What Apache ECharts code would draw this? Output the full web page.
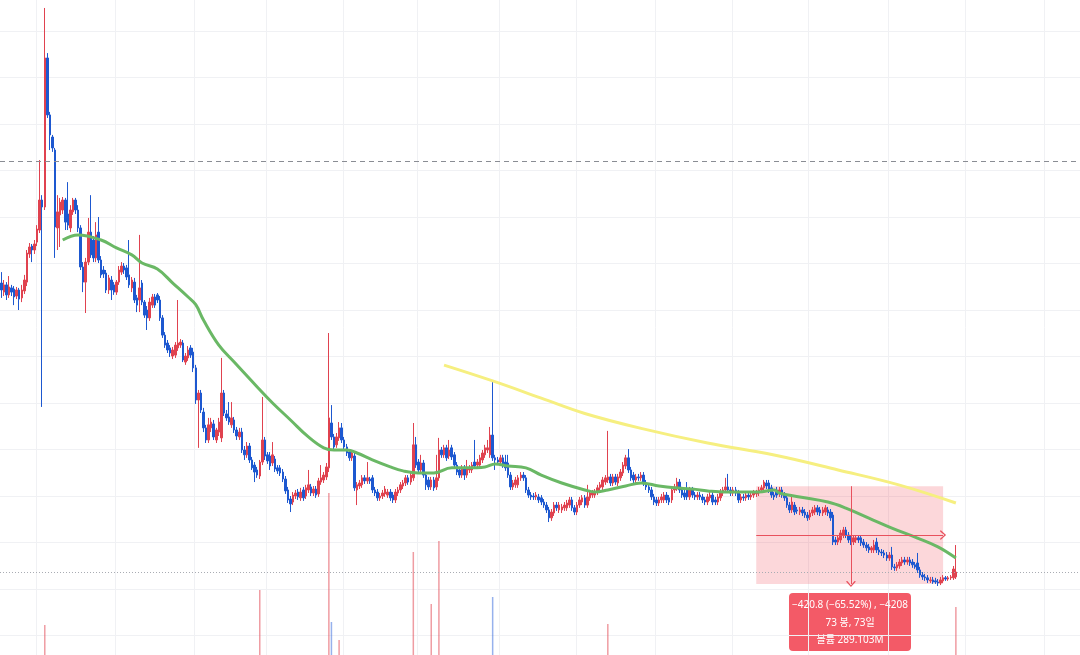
<!DOCTYPE html>
<html>
<head>
<meta charset="utf-8">
<script src="https://cdn.jsdelivr.net/npm/echarts@6/dist/echarts.min.js"></script>
<style>
  html, body { margin: 0; padding: 0; background: #fff; }
  #chart { width: 1080px; height: 655px; }
</style>
</head>
<body>
<div id="chart"></div>
<script>
// daily bars, [open, close, low, high]
const candles = [
  [1516,1486,1452,1563],[1477,1508,1460,1529],[1508,1465,1443,1520],[1465,1499,1452,1546],[1495,1477,1460,1508],
  [1490,1456,1421,1503],[1460,1486,1447,1499],[1486,1447,1400,1495],[1452,1486,1434,1508],[1482,1529,1469,1551],
  [1520,1645,1503,1658],[1641,1671,1624,1688],[1675,1658,1606,1684],[1658,1684,1641,1701],[1692,1748,1675,1765],
  [1744,1873,1731,2045],[1873,1843,983,1894],[1843,2484,1830,2699],[2484,2239,2226,2505],[2239,2153,2088,2252],
  [2144,2097,2080,2153],[2088,1757,1624,2097],[1753,1822,1658,1894],[1809,1864,1671,1882],[1830,1873,1813,1886],
  [1873,1778,1744,1882],[1813,1765,1744,1950],[1753,1830,1735,1851],[1822,1873,1809,1882],[1873,1830,1813,1882],
  [1830,1753,1735,1851],[1753,1585,1572,1765],[1585,1520,1477,1606],[1520,1606,1387,1624],[1606,1735,1593,1796],
  [1735,1637,1624,1894],[1701,1624,1606,1718],[1624,1723,1606,1778],[1735,1615,1602,1800],[1615,1551,1538,1632],
  [1572,1555,1538,1589],[1559,1486,1473,1572],[1486,1538,1469,1551],[1529,1486,1443,1546],[1508,1477,1465,1520],
  [1477,1520,1465,1529],[1520,1572,1508,1589],[1563,1589,1551,1606],[1589,1572,1555,1602],[1581,1542,1529,1594],
  [1551,1508,1495,1701],[1495,1529,1477,1542],[1520,1443,1430,1538],[1452,1421,1391,1465],[1443,1495,1391,1723],
  [1516,1434,1421,1529],[1434,1378,1366,1443],[1400,1366,1314,1417],[1366,1434,1353,1452],[1421,1456,1409,1469],
  [1456,1421,1409,1469],[1465,1443,1430,1473],[1443,1366,1353,1460],[1366,1292,1280,1378],[1292,1249,1237,1305],
  [1258,1228,1215,1271],[1237,1215,1198,1249],[1202,1228,1189,1241],[1206,1249,1194,1262],[1237,1258,1224,1443],
  [1249,1262,1237,1275],[1258,1185,1176,1271],[1176,1202,1164,1215],[1194,1228,1181,1245],[1237,1206,1194,1249],
  [1219,1151,1133,1237],[1151,1013,996,1164],[1013,1043,807,1056],[1043,970,957,1056],[961,893,875,979],
  [893,841,828,906],[841,906,828,936],[893,918,875,936],[910,854,841,927],[841,884,828,893],
  [875,918,858,936],[850,1043,832,1194],[1043,957,944,1056],[953,936,923,970],[940,918,906,1004],
  [906,936,893,1004],[927,884,871,940],[884,858,841,897],[854,875,841,893],[875,798,785,893],
  [798,777,755,815],[777,815,764,832],[815,755,742,828],[755,721,712,768],[733,703,660,746],
  [712,690,678,725],[686,746,673,755],[746,841,733,1026],[841,772,755,854],[777,751,738,789],
  [772,729,712,789],[742,777,729,832],[759,716,703,772],[721,708,695,733],[721,699,686,733],
  [703,673,660,716],[673,622,609,686],[626,583,570,639],[587,566,531,600],[574,604,561,617],
  [600,613,587,626],[617,596,583,630],[592,617,579,635],[626,592,579,639],[600,635,587,648],
  [626,648,613,712],[639,613,600,652],[613,630,600,643],[630,604,592,643],[609,665,596,678],
  [660,678,648,733],[669,690,656,703],[682,725,669,742],[721,936,703,1301],[914,854,841,991],
  [854,811,798,867],[820,854,807,871],[850,893,837,918],[893,841,828,914],[841,811,798,854],
  [811,785,772,824],[789,764,751,802],[764,785,751,798],[772,635,622,785],[626,648,561,660],
  [643,656,630,669],[648,678,635,690],[678,665,652,690],[665,678,652,746],[673,665,652,682],
  [678,626,613,690],[626,613,600,639],[617,592,579,630],[592,600,579,613],[600,613,587,626],
  [609,630,596,643],[604,617,592,630],[617,592,579,630],[604,583,570,617],[583,617,570,630],
  [613,626,600,639],[626,648,613,660],[643,656,630,669],[656,678,643,690],[678,660,648,690],
  [660,690,648,703],[678,820,665,914],[820,733,721,854],[746,712,699,759],[712,742,699,777],
  [742,690,678,755],[690,648,626,703],[669,639,626,682],[639,669,626,682],[669,635,622,682],
  [639,678,626,777],[678,798,665,850],[798,777,764,811],[777,807,764,820],[807,764,751,820],
  [772,798,759,841],[807,768,755,820],[777,733,721,789],[733,703,690,746],[712,690,678,725],
  [690,721,678,733],[721,690,669,733],[690,721,678,755],[712,721,699,733],[712,733,699,746],
  [746,729,716,841],[733,746,721,759],[733,764,721,777],[755,785,742,798],[777,807,764,820],
  [798,807,785,841],[777,862,764,897],[862,764,751,1095],[764,755,712,777],[755,746,733,768],
  [746,764,733,777],[764,733,721,777],[746,721,708,777],[742,690,678,777],[690,639,626,703],
  [639,656,626,669],[648,669,635,682],[648,678,635,690],[678,690,665,703],[690,678,665,703],
  [678,626,613,690],[626,604,592,639],[604,596,583,617],[600,596,583,613],[596,604,583,617],
  [596,583,570,609],[592,574,561,604],[574,561,549,587],[561,540,527,574],[540,506,488,553],
  [506,531,493,544],[527,561,514,574],[561,549,536,574],[540,561,527,574],[540,553,527,566],
  [549,561,536,574],[549,570,536,583],[561,583,549,596],[583,549,536,596],[549,531,518,561],
  [531,561,518,574],[561,583,549,596],[574,592,561,604],[592,561,549,604],[561,596,549,648],
  [592,613,579,626],[604,613,592,626],[604,617,592,630],[617,635,604,648],[635,648,622,660],
  [639,669,626,682],[660,678,648,690],[669,682,656,880],[682,656,643,695],[656,682,643,695],
  [682,660,648,695],[656,682,643,695],[678,703,665,716],[699,733,686,746],[729,764,716,777],
  [764,712,699,802],[712,678,665,725],[690,669,648,703],[669,682,656,695],[682,678,665,695],
  [678,690,665,703],[690,656,643,703],[656,639,626,669],[639,626,613,652],[626,596,583,639],
  [596,574,561,609],[583,570,557,596],[570,583,557,596],[583,596,570,609],[583,604,570,617],
  [604,583,570,617],[592,574,561,604],[583,626,570,639],[626,639,613,652],[635,660,622,678],
  [660,626,613,673],[626,604,592,639],[613,596,583,626],[626,596,583,660],[596,626,583,639],
  [626,604,592,639],[604,596,583,617],[596,604,583,617],[604,596,583,617],[596,583,570,609],
  [583,574,561,596],[574,596,561,609],[592,604,579,617],[604,574,561,617],[583,574,561,596],
  [574,596,561,609],[592,617,579,630],[613,626,600,639],[626,639,613,678],[639,626,613,695],
  [626,613,600,639],[613,626,600,639],[626,613,600,639],[613,583,570,626],[583,596,570,609],
  [596,592,579,609],[592,604,579,617],[604,596,583,617],[596,604,583,617],[604,613,592,626],
  [609,613,596,626],[613,626,600,639],[626,635,613,648],[635,660,622,669],[656,643,630,669],
  [656,626,613,669],[635,604,592,648],[604,596,583,617],[626,604,592,639],[609,626,596,639],
  [626,604,592,639],[604,592,579,617],[592,561,549,604],[561,540,527,574],[540,574,527,596],
  [561,531,518,574],[540,536,523,553],[531,540,518,553],[540,527,514,553],[531,518,506,544],
  [518,506,493,531],[510,527,497,540],[527,540,514,553],[531,549,518,561],[549,531,518,561],
  [540,527,514,553],[527,540,514,553],[531,549,518,561],[540,527,514,553],[531,506,493,544],
  [518,402,389,531],[411,402,389,424],[402,420,389,432],[411,441,398,454],[432,454,419,467],
  [454,432,419,467],[432,411,398,445],[420,402,389,432],[402,420,389,432],[411,420,398,432],
  [420,411,398,432],[420,398,385,432],[402,389,377,415],[389,377,364,402],[381,368,355,394],
  [368,377,355,385],[368,389,355,411],[402,368,355,420],[368,359,346,381],[359,355,342,372],
  [355,346,333,368],[346,333,321,359],[333,346,321,359],[346,295,282,381],[295,291,278,308],
  [291,304,278,316],[299,316,287,329],[312,325,299,338],[325,316,304,338],[316,325,304,338],
  [325,312,299,338],[316,304,291,329],[304,295,287,316],[312,282,269,355],[282,260,248,295],
  [260,252,239,273],[252,248,235,265],[248,239,226,260],[235,239,226,252],[239,230,222,252],
  [235,230,222,248],[230,226,213,243],[226,239,217,252],[235,248,226,260],[248,243,235,256],
  [243,248,235,256],[248,252,239,260],[248,286,239,299],[252,273,243,389]
]

// volume per bar, millions
const volumes = [
  3,2,4,3,2,3,2,4,3,5, 6,4,3,4,5,9,12,80,14,8,
  7,10,6,5,4,5,6,4,3,4, 5,6,5,7,5,6,4,5,4,3,
  3,4,3,3,2,3,4,3,2,3, 4,3,4,3,5,3,4,3,3,2,
  2,3,2,4,3,3,2,2,3,4, 2,3,2,2,3,3,5,6,3,4,
  3,3,2,3,2,2,6,3,2,2, 3,2,2,2,3,2,2,3,2,2,
  2,150,8,4,2,2,3,2,2,2, 2,3,3,2,2,2,2,2,2,2,
  3,2,2,2,2,3,2,3,344,86, 12,8,50,6,4,3,3,2,5,3,
  2,2,2,2,2,2,2,2,2,2, 2,2,2,3,2,2,2,2,3,2,
  3,226,4,3,3,3,4,3,122,4, 6,248,8,5,4,4,3,3,3,2,
  3,2,3,2,2,4,2,3,3,3, 4,6,136,10,4,3,2,3,3,4,
  2,2,3,2,2,3,2,2,2,2, 2,2,2,2,3,2,2,2,2,2,
  2,2,2,2,2,2,2,2,2,3, 2,2,2,2,3,3,4,82,6,3,
  3,3,3,4,5,6,4,3,2,2, 2,3,2,3,3,2,2,2,2,2,
  2,2,3,2,3,2,2,2,3,2, 2,2,2,2,2,2,2,2,3,2,
  2,2,2,3,4,2,2,2,2,2, 2,2,2,2,2,3,3,3,4,3,
  4,4,3,3,3,4,4,5,4,5, 4,4,3,3,4,4,3,4,4,3,
  4,4,3,4,5,12,6,5,5,4, 4,4,3,3,3,3,3,4,4,4,
  3,4,4,3,3,3,4,4,3,8, 4,4,3,3,3,3,3,3,9,5,
  4,4,3,3,3,4,4,4,3,3, 3,3,6,116
]

// moving averages: [bar index, price]
const maGreen = [
  [24,1701],[30,1723],[39,1701],[45,1667],[51,1637],[55,1602],[61,1576],[67,1516],[73,1456],[76,1423],
  [79,1357],[85,1249],[91,1176],[100,1069],[106,1000],[113,927],[120,854],[126,807],[130,798],[135,798],
  [139,785],[145,755],[152,725],[157,708],[163,699],[169,699],[176,721],[182,721],[189,725],[193,738],
  [198,729],[205,721],[211,690],[219,656],[228,626],[232,617],[237,626],[244,643],[250,656],[257,643],
  [263,635],[270,630],[276,622],[283,617],[289,617],[296,617],[302,626],[304,613],[312,596],[323,574],
  [330,548],[339,505],[348,462],[358,419],[366,381],[373,333]
]
const maYellow = [
  [173,1163],[192,1095],[211,1021],[228,955],[250,891],[276,828],[302,776],[327,712],[351,647],[373,570]
]

// vertical time grid (bar boundaries)
const timeGrid = [14, 45, 76, 104, 134, 163, 195, 225, 256, 286, 316, 347, 377, 408]

// price range measurement
const rangeFrom = 295
const rangeTo = 368
const rangeHigh = 642.2
const rangeLow = 221.4
const rangeText = ['\u2212420.8 (\u221265.52%) , \u22124208', '73 봉, 73일', '볼륨 289.103M']
const refLine = 2040
const lastLine = 270

const CAT_COUNT = 422
const days = []
const t0 = Date.UTC(2023, 0, 2)
for (let i = 0; i < CAT_COUNT; i++) {
  days.push(new Date(t0 + i * 864e5).toISOString().slice(0, 10))
}

const UP = '#e0424f'
const DOWN = '#1d58d0'
const chevron = 'path://M0,8 L5,0 L10,8 L8.6,8.8 L5,2.6 L1.4,8.8 Z'
const boxFont = '10px "Noto Sans", "Noto Sans CJK KR", sans-serif'

var chart = echarts.init(document.getElementById('chart'), null, { renderer: 'canvas' })

var volData = volumes.map((v, i) => ({
  value: v,
  itemStyle: { color: candles[i][1] >= candles[i][0] ? 'rgba(226,74,86,0.55)' : 'rgba(45,100,220,0.5)' }
}))

var option = {
  animation: false,
  backgroundColor: '#ffffff',
  grid: [
    // price pane runs past the picture edges so that 0 sits near the bottom
    { left: 0, right: 0, top: -15.5, height: 697.5, outerBoundsMode: 'none' },
    // volume pane, baseline just below the visible area
    { left: 0, right: 0, top: 465, height: 200, outerBoundsMode: 'none' }
  ],
  xAxis: [
    {
      type: 'category', gridIndex: 0, data: days, boundaryGap: true,
      axisLine: { show: false }, axisTick: { show: false }, axisLabel: { show: false },
      splitLine: { show: true, interval: (idx) => timeGrid.includes(idx), lineStyle: { color: '#f0f1f4', width: 1 } }
    },
    { type: 'category', gridIndex: 1, data: days, boundaryGap: true, show: false }
  ],
  yAxis: [
    {
      type: 'value', gridIndex: 0, min: -200, max: 2800, interval: 200,
      axisLine: { show: false }, axisTick: { show: false }, axisLabel: { show: false },
      splitLine: { show: true, lineStyle: { color: '#f0f1f4', width: 1 } }
    },
    { type: 'value', gridIndex: 1, min: 0, max: 400, show: false, splitLine: { show: false } }
  ],
  series: [
    {
      // shaded range box, kept under the candles
      type: 'line', data: [], z: 1, silent: true,
      markArea: {
        silent: true,
        itemStyle: { color: 'rgba(242,54,69,0.2)' },
        data: [[{ coord: [rangeFrom, rangeHigh] }, { coord: [rangeTo, rangeLow] }]]
      }
    },
    {
      type: 'candlestick', data: candles, z: 2, barWidth: 2,
      itemStyle: { color: UP, color0: DOWN, borderColor: UP, borderColor0: DOWN, borderWidth: 1 }
    },
    {
      type: 'line', data: maGreen, z: 3, smooth: 0.4, symbol: 'none', silent: true,
      lineStyle: { color: '#6ab865', width: 3 }
    },
    {
      type: 'line', data: maYellow, z: 3, smooth: 0.4, symbol: 'none', silent: true,
      lineStyle: { color: '#f6ef80', width: 3 }
    },
    {
      type: 'line', data: [], z: 4, silent: true,
      markLine: {
        silent: true, symbol: 'none', label: { show: false },
        data: [
          { yAxis: refLine, lineStyle: { color: '#8a8d94', type: [5, 4], width: 1 } },
          { yAxis: lastLine, lineStyle: { color: '#a9acb3', type: [1, 2], width: 1 } },
          [
            { coord: [rangeFrom, (rangeHigh + rangeLow) / 2], symbol: 'none' },
            { coord: [rangeTo, (rangeHigh + rangeLow) / 2], symbol: chevron, symbolSize: [10, 6] }
          ],
          [
            { coord: [332, rangeHigh], symbol: 'none' },
            { coord: [332, rangeLow], symbol: chevron, symbolSize: [10, 6] }
          ]
        ],
        lineStyle: { color: '#e8515d', width: 1, type: 'solid' }
      }
    },
    {
      type: 'bar', xAxisIndex: 1, yAxisIndex: 1, data: volData, barWidth: 1.5, silent: true
    }
  ],
  graphic: [
    {
      type: 'group', left: 789, top: 593,
      children: [
        { type: 'rect', shape: { x: 0, y: 0, width: 122, height: 58, r: 4 }, style: { fill: '#f35a67' } },
        { type: 'text', x: 61, y: 12, style: { text: rangeText[0], fill: '#fff', font: boxFont, textAlign: 'center', textVerticalAlign: 'middle' } },
        { type: 'text', x: 61, y: 30, style: { text: rangeText[1], fill: '#fff', font: boxFont, textAlign: 'center', textVerticalAlign: 'middle' } },
        { type: 'text', x: 61, y: 47, style: { text: rangeText[2], fill: '#fff', font: boxFont, textAlign: 'center', textVerticalAlign: 'middle' } }
      ]
    }
  ]
}

chart.setOption(option)
</script>
</body>
</html>
